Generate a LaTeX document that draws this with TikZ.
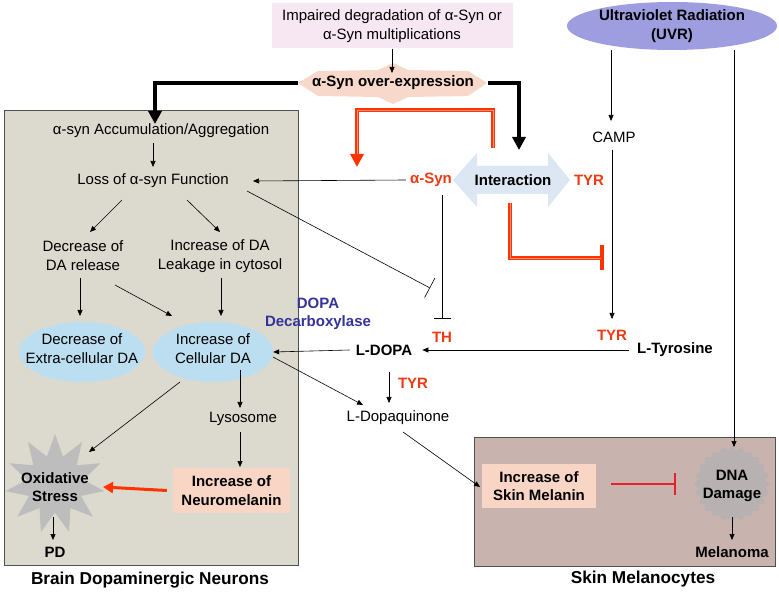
\documentclass[tikz,border=0pt]{standalone}
\usepackage{fontspec}
\setmainfont{Liberation Sans}
\usetikzlibrary{arrows.meta,shapes.geometric}
\definecolor{brainbg}{HTML}{DCD9CE}
\definecolor{skinbg}{HTML}{C8B3AE}
\definecolor{peach}{HTML}{F8D5C5}
\definecolor{lavpink}{HTML}{F6E7F3}
\definecolor{salmon}{HTML}{F9D8CC}
\definecolor{ellblue}{HTML}{BBDFF1}
\definecolor{uvrcol}{HTML}{9D9DDF}
\definecolor{interblue}{HTML}{DDE7F3}
\definecolor{lbred}{HTML}{EE3A12}
\definecolor{arrred}{HTML}{FF3300}
\definecolor{tred}{HTML}{E8202A}
\definecolor{navy}{HTML}{333399}
\definecolor{stargray}{HTML}{BDBDBD}
\definecolor{dnagray}{HTML}{B7B1B1}
\definecolor{boxline}{HTML}{505050}
\begin{document}
\begin{tikzpicture}[x=1pt,y=-1pt,
  txt/.style={font=\fontsize{15}{19}\selectfont, align=center, inner sep=0pt},
  btxt/.style={font=\fontsize{15}{18.5}\selectfont\bfseries, align=center, inner sep=0pt},
  rtxt/.style={btxt, text=lbred},
  arr/.style={-{Triangle[length=6pt,width=5pt]}, line width=0.6pt},
  tbar/.style={-{Bar[width=#1]}, line width=0.6pt},
  thickblk/.style={line width=3.5pt, -{Triangle[length=13pt,width=13pt]}},
  redouter/.style={line width=4.5pt, arrred},
  redinner/.style={line width=0.9pt, arrred!55!white},
  cellbox/.style={draw=boxline, line width=0.8pt, minimum width=#1, inner sep=0pt, anchor=north west}
]
\useasboundingbox[fill=white] (0,0) rectangle (779,593);

% containers
\node[cellbox=294, fill=brainbg, minimum height=455] (brain) at (4,110) {};
\node[cellbox=301, fill=skinbg, minimum height=129] (skin) at (474,437) {};
\node[btxt, font=\fontsize{17.2}{20}\selectfont\bfseries] (brainlbl) at (150,580) {Brain Dopaminergic Neurons};
\node[btxt, font=\fontsize{17.2}{20}\selectfont\bfseries] (skinlbl) at (643,579) {Skin Melanocytes};

% top
\node[txt, fill=lavpink, minimum width=241, minimum height=45] (impaired) at (392,26) {Impaired degradation of α-Syn or\\α-Syn multiplications};
\fill[salmon] (298,83) -- (318,71) -- (378,70) -- (393,63) -- (408,70) -- (468,71) -- (487,83) -- (468,96) -- (408,97) -- (393,104) -- (378,97) -- (318,96) -- cycle;
\node[btxt, minimum width=189, minimum height=20] (overexp) at (393,83) {α-Syn over-expression};
\coordinate (overTop) at (392,73);
\draw[arr] (impaired.south) -- (overTop);

% UVR
\node[ellipse, fill=uvrcol, minimum width=210, minimum height=48, inner sep=0pt] (uvr) at (672,26) {};
\node[btxt] (uvrtxt) at (672,26) {Ultraviolet Radiation\\(UVR)};

% interaction
\fill[interblue] (453,180) -- (477,153) -- (477,166) -- (548,166) -- (548,153) -- (570,180) -- (548,207) -- (548,194) -- (477,194) -- (477,207) -- cycle;
\node[btxt] (inter) at (513,180) {Interaction};
\node[rtxt] (asyn) at (431,180) {α-Syn};
\node[rtxt] (tyr1) at (589,180) {TYR};
\node[txt] (camp) at (614,137) {CAMP};
\node[rtxt] (tyr2) at (612,335) {TYR};
\node[btxt] (ltyr) at (675,350) {L-Tyrosine};
\node[btxt] (ldopa) at (384,350) {L-DOPA};
\node[rtxt] (th) at (442,337) {TH};
\node[btxt, text=navy, font=\fontsize{15}{18}\selectfont\bfseries] (dopadec) at (318,314) {DOPA\\Decarboxylase};
\node[rtxt] (tyr3) at (413,383) {TYR};
\node[txt] (ldq) at (398,418) {L-Dopaquinone};

% brain contents
\node[txt] (accum) at (161,131) {α-syn Accumulation/Aggregation};
\node[txt] (loss) at (153,181) {Loss of α-syn Function};
\node[txt] (decrel) at (83,256) {Decrease of\\DA release};
\node[txt] (leak) at (220,256) {Increase of DA\\Leakage in cytosol};
\node[ellipse, fill=ellblue, minimum width=126, minimum height=60, inner sep=0pt] (extraE) at (82,352) {};
\node[ellipse, fill=ellblue, minimum width=120, minimum height=60, inner sep=0pt] (cellE) at (213,352) {};
\node[txt] (extraT) at (82,349) {Decrease of\\Extra-cellular DA};
\node[txt] (cellT) at (213,349) {Increase of\\Cellular DA};
\node[txt] (lyso) at (243,419) {Lysosome};
\node[btxt, fill=peach, minimum width=117, minimum height=45] (neuro) at (231.5,490.5) {Increase of\\Neuromelanin};
\node[star, star points=11, star point ratio=1.75, fill=stargray, minimum size=100, inner sep=0pt] (oxS) at (55,484) {};
\node[btxt] (oxT) at (55,487) {Oxidative\\Stress};
\node[btxt] (pd) at (55,552) {PD};

% skin contents
\node[btxt, fill=peach, minimum width=114, minimum height=44] (skinmel) at (539,486) {Increase of\\Skin Melanin};
\node[star, star points=24, star point ratio=1.13, fill=dnagray, minimum size=76, inner sep=0pt] (dnaS) at (732,484) {};
\node[btxt] (dnaT) at (732,486) {DNA\\Damage};
\node[btxt] (melanoma) at (732,552) {Melanoma};

% named connector ends
\coordinate (accTip) at (155,124);
\coordinate (intTip) at (519,150);
\coordinate (redA0) at (493,148);
\coordinate (redA1) at (357,167);
\coordinate (redB0) at (510,203);
\coordinate (redB1) at (604,258);
\coordinate (lossT) at (430,288);
\coordinate (uvrL) at (611,50);
\coordinate (campTop) at (611,121);
\coordinate (campBot) at (612,150);
\coordinate (tyr2Top) at (612,319);
\coordinate (uvrR) at (734,50);
\coordinate (dnaTop) at (734,447);
\coordinate (asynBot) at (442,195);
\coordinate (thTop) at (442,319);
\coordinate (lossRight) at (253,181);
\coordinate (lossBR) at (247,191);
\coordinate (ldopaBot) at (389,372);
\coordinate (ldqTop) at (389,403);
\coordinate (cellR) at (273,357);
\coordinate (ldqL) at (363,405);
\coordinate (ldqB) at (403,432);
\coordinate (skinIn) at (480,487);

% thick black arrows
\draw[thickblk] (overexp.west) -| (accTip);
\draw[thickblk] (overexp.east) -| (intTip);

% red double arrows
\draw[redouter, -{Triangle[length=13pt,width=13pt]}] (redA0) -- (493,110) -- (357,110) -- (redA1);
\draw[redinner] (redA0) -- (493,110) -- (357,110) -- (357,154);
\draw[redouter, -{Bar[width=25pt]}] (redB0) -- (510,258) -- (redB1);
\draw[redinner] (redB0) -- (510,258) -- (601,258);

% right side
\draw[arr] (uvrL) -- (campTop);
\draw[arr] (campBot) -- (tyr2Top);
\draw[arr] (uvrR) -- (dnaTop);
\draw[arr] ([xshift=-8pt]ltyr.west) -- ([xshift=10pt]ldopa.east);
\draw[arr] ([xshift=-6pt]ldopa.west) -- (cellE.east);
\draw[tbar=17pt] (asynBot) -- (thTop);
\draw[arr] ([xshift=-4pt]asyn.west) -- (lossRight);
\draw[tbar=22pt] (lossBR) -- (lossT);
\draw[arr] (ldopaBot) -- (ldqTop);
\draw[arr] (cellR) -- (ldqL);
\draw[arr] (ldqB) -- (skinIn);

% brain arrows
\coordinate (a1) at (153,143); \coordinate (a2) at (153,167);
\coordinate (b1) at (122,200); \coordinate (b2) at (90,232);
\coordinate (c1) at (187,200); \coordinate (c2) at (220,232);
\coordinate (d1) at (80,278); \coordinate (d2) at (80,316);
\coordinate (e1) at (115,285); \coordinate (e2) at (172,316);
\coordinate (f1) at (221,278); \coordinate (f2) at (221,316);
\coordinate (g1) at (240,370); \coordinate (g2) at (240,408);
\coordinate (h1) at (240,432); \coordinate (h2) at (240,467);
\coordinate (i1) at (180,382); \coordinate (i2) at (89,452);
\coordinate (oxR) at (103,487);
\coordinate (j1) at (53,517); \coordinate (j2) at (53,540);
\draw[arr] (a1) -- (a2);
\draw[arr] (b1) -- (b2);
\draw[arr] (c1) -- (c2);
\draw[arr] (d1) -- (d2);
\draw[arr] (e1) -- (e2);
\draw[arr] (f1) -- (f2);
\draw[arr] (g1) -- (g2);
\draw[arr] (h1) -- (h2);
\draw[arr] (i1) -- (i2);
\draw[line width=3pt, arrred, -{Triangle[length=10pt,width=11pt]}] ([xshift=-6pt]neuro.west) -- (oxR);
\draw[arr] (j1) -- (j2);

% skin arrows
\coordinate (k1) at (611,484); \coordinate (k2) at (676,484);
\coordinate (m1) at (732,517); \coordinate (m2) at (732,540);
\draw[line width=2.5pt, tred, -{Bar[width=22pt]}] (k1) -- (k2);
\draw[arr] (m1) -- (m2);
\end{tikzpicture}
\end{document}
